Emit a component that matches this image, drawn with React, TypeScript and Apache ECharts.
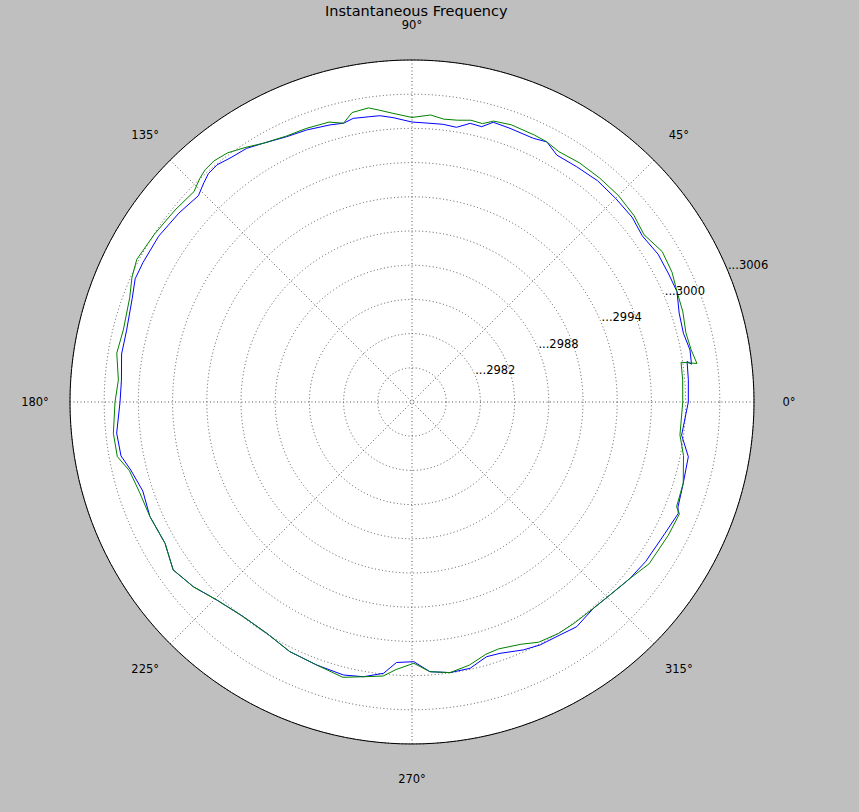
import React, { useEffect, useRef } from 'react';
import * as echarts from 'echarts';

// Angle (degrees) at which each sample was taken, in recording order
const angles = [
  360, 4.6, 8.4, 7.7, 10.6, 14.2, 18.4, 22.6, 26.5, 31, 35.8, 40, 45, 50, 55, 59.6, 62.6, 65.3, 70.3, 73.8, 75.8,
  78.2, 80.8, 83.6, 86.3, 90, 93.8, 96.4, 98.4, 101.7, 103.8, 106.5, 111.2, 115.3, 119.9, 123.1, 126.5, 129.4,
  131.7, 133.5, 136, 141, 146.8, 152.6, 156, 159.7, 166, 170.6, 175.7, 180, 186, 190.5, 193.6, 198.3, 203.6,
  209.8, 215.1, 220.2, 225.4, 231.8, 237.9, 243.9, 250.1, 255.9, 260, 264, 266.6, 270.4, 273.8, 278, 282.3,
  286.3, 289.3, 294.2, 297.8, 302.4, 306.2, 311.3, 315.7, 321, 325.7, 332.5, 337.3, 338.4, 343.3, 348.8, 353,
  360,
];

// Blue series: instantaneous frequency
const blueFreq = [
  3000.24, 3000.32, 3000.39, 3000.74, 3000.81, 3000.56, 3000.70, 3001.18, 3001.16, 3001.18, 3000.91, 3001.21,
  3001.26, 3001.33, 3001.19, 3001.11, 3001.70, 3001.46, 3001.50, 3001.55, 3000.91, 3000.97, 3000.41, 3000.51,
  3000.50, 3000.56, 3001.00, 3001.27, 3001.30, 3001.41, 3001.18, 3001.35, 3001.59, 3001.74, 3002.18, 3002.56,
  3002.68, 3002.93, 3002.84, 3002.52, 3002.05, 3002.32, 3002.56, 3002.58, 3002.58, 3002.17, 3001.81, 3001.82,
  3001.56, 3001.61, 3002.05, 3001.96, 3001.38, 3000.87, 3001.09, 3000.96, 3001.61, 3001.11, 3000.39, 2999.95,
  2999.96, 3000.38, 3000.54, 3000.69, 3000.47, 2999.93, 2998.89, 2998.78, 2999.71, 2999.97, 2999.91, 2999.28,
  2999.36, 2999.84, 3000.09, 3000.21, 3000.44, 3000.10, 3000.25, 3000.60, 3000.82, 3001.00, 3001.32, 3001.09,
  3000.84, 3000.71, 2999.83, 3000.24,
];

// Green series: instantaneous frequency
const greenFreq = [
  2999.75, 2999.82, 2999.86, 3001.22, 3000.91, 3000.78, 3001.04, 3001.18, 3001.49, 3001.61, 3001.09, 3001.43,
  3001.61, 3001.63, 3001.61, 3001.46, 3001.70, 3001.76, 3001.83, 3001.66, 3001.19, 3001.25, 3001.04, 3000.97,
  3001.23, 3000.96, 3001.38, 3001.76, 3002.08, 3001.93, 3001.18, 3001.61, 3001.73, 3001.80, 3002.18, 3002.67,
  3003.19, 3003.37, 3003.28, 3003.04, 3002.58, 3002.75, 3002.96, 3003.19, 3002.89, 3002.40, 3002.10, 3002.25,
  3001.83, 3002.05, 3002.34, 3002.29, 3001.52, 3001.18, 3001.09, 3000.96, 3001.61, 3001.11, 3000.39, 2999.95,
  2999.96, 3000.38, 3000.54, 3000.90, 3000.47, 3000.17, 2999.51, 2998.92, 2999.71, 2999.97, 2999.62, 2999.06,
  2998.95, 2999.30, 2999.82, 3000.03, 3000.06, 3000.10, 3000.25, 3000.60, 3001.18, 3001.34, 3001.43, 3000.96,
  3000.84, 3000.28, 2999.68, 2999.75,
];

// Radial axis: range, ring step and labelled values
const radiusMin = 2976;
const radiusMax = 3006;
const radiusStep = 3;
const radialLabels = [2982, 2988, 2994, 3000, 3006];

// Angular axis
const angleStep = 45;
const titleText = 'Instantaneous Frequency';

const FONT = 'DejaVu Sans';
const GRID = { color: '#555555', width: 1, type: [1, 2.5] as number[] };
const LABEL = { fontFamily: FONT, fontSize: 11.5, color: '#000', align: 'center' as const };

export default function App() {
  const ref = useRef<HTMLDivElement>(null);

  useEffect(() => {
    const chart = echarts.init(ref.current as HTMLDivElement, null, { renderer: 'svg' });
    const pair = (vals: number[]) => vals.map((v, i) => [v, angles[i]]);
    chart.setOption({
      animation: false,
      backgroundColor: '#bfbfbf',
      title: {
        text: titleText,
        left: 320,
        top: -1,
        textStyle: { fontFamily: FONT, fontSize: 14.5, lineHeight: 14, fontWeight: 'normal', color: '#000' },
      },
      polar: [
        { center: [412, 402], radius: 342 },
        { center: [412, 402], radius: 342 },
        { center: [412, 402], radius: 342 },
      ],
      angleAxis: [
        {
          polarIndex: 0,
          type: 'value',
          min: 0,
          max: 360,
          interval: angleStep,
          startAngle: 0,
          clockwise: false,
          z: 2,
          axisLine: { show: true, lineStyle: { color: '#000', width: 1 } },
          axisTick: { show: false },
          axisLabel: {
            margin: 0,
            color: '#000',
            fontFamily: FONT,
            fontSize: 11.5,
            formatter: (v: number) => {
              if (v === 360) return '';
              const style = v % 90 !== 0 ? 'd' : v % 180 === 0 ? 'h' : v === 90 ? 'n' : 's';
              return '{' + style + '|' + v + '°}';
            },
            rich: {
              h: { ...LABEL, width: 70, height: 14 },
              n: { ...LABEL, height: 12, padding: [0, 0, 29, 0] },
              s: { ...LABEL, height: 12, padding: [29, 0, 0, 0] },
              d: { ...LABEL, width: 50, height: 50 },
            },
          },
          splitLine: { show: true, lineStyle: GRID },
          splitArea: { show: false },
        },
        {
          polarIndex: 1,
          type: 'value',
          min: 0,
          max: 360,
          startAngle: 22.5,
          clockwise: false,
          show: false,
        },
        {
          polarIndex: 2,
          type: 'value',
          min: 0,
          max: 360,
          startAngle: 0,
          clockwise: false,
          show: false,
        },
      ],
      radiusAxis: [
        {
          polarIndex: 0,
          type: 'value',
          min: radiusMin,
          max: radiusMax,
          interval: radiusStep,
          z: 2,
          axisLine: { show: false },
          axisTick: { show: false },
          axisLabel: { show: false },
          splitLine: { show: true, lineStyle: GRID },
        },
        {
          polarIndex: 1,
          type: 'value',
          min: radiusMin,
          max: radiusMax,
          interval: radiusStep,
          z: 5,
          axisLine: { show: false },
          axisTick: { show: false },
          splitLine: { show: false },
          axisLabel: {
            show: true,
            margin: 0,
            align: 'left',
            verticalAlign: 'bottom',
            rotate: 0,
            showMinLabel: true,
            showMaxLabel: true,
            hideOverlap: false,
            color: '#000',
            fontFamily: FONT,
            fontSize: 11.5,
            formatter: (v: number) => (radialLabels.indexOf(v) >= 0 ? '...' + v : ''),
          },
        },
        {
          // white plotting disc behind everything
          polarIndex: 2,
          type: 'value',
          min: 0,
          max: 30,
          interval: 30,
          z: 0,
          axisLine: { show: false },
          axisTick: { show: false },
          axisLabel: { show: false },
          splitLine: { show: false },
          splitArea: { show: true, areaStyle: { color: ['#ffffff', '#ffffff'] } },
        },
      ],
      series: [
        {
          type: 'line',
          coordinateSystem: 'polar',
          polarIndex: 0,
          data: pair(blueFreq),
          showSymbol: false,
          symbol: 'none',
          lineStyle: { color: '#0000ff', width: 1 },
          itemStyle: { color: '#0000ff' },
          z: 3,
        },
        {
          type: 'line',
          coordinateSystem: 'polar',
          polarIndex: 0,
          data: pair(greenFreq),
          showSymbol: false,
          symbol: 'none',
          lineStyle: { color: '#008000', width: 1 },
          itemStyle: { color: '#008000' },
          z: 4,
        },
      ],
    });
    return () => chart.dispose();
  }, []);

  return (
    <div
      ref={ref}
      style={{ position: 'fixed', left: 0, top: 0, width: 859, height: 812, background: '#bfbfbf' }}
    />
  );
}
